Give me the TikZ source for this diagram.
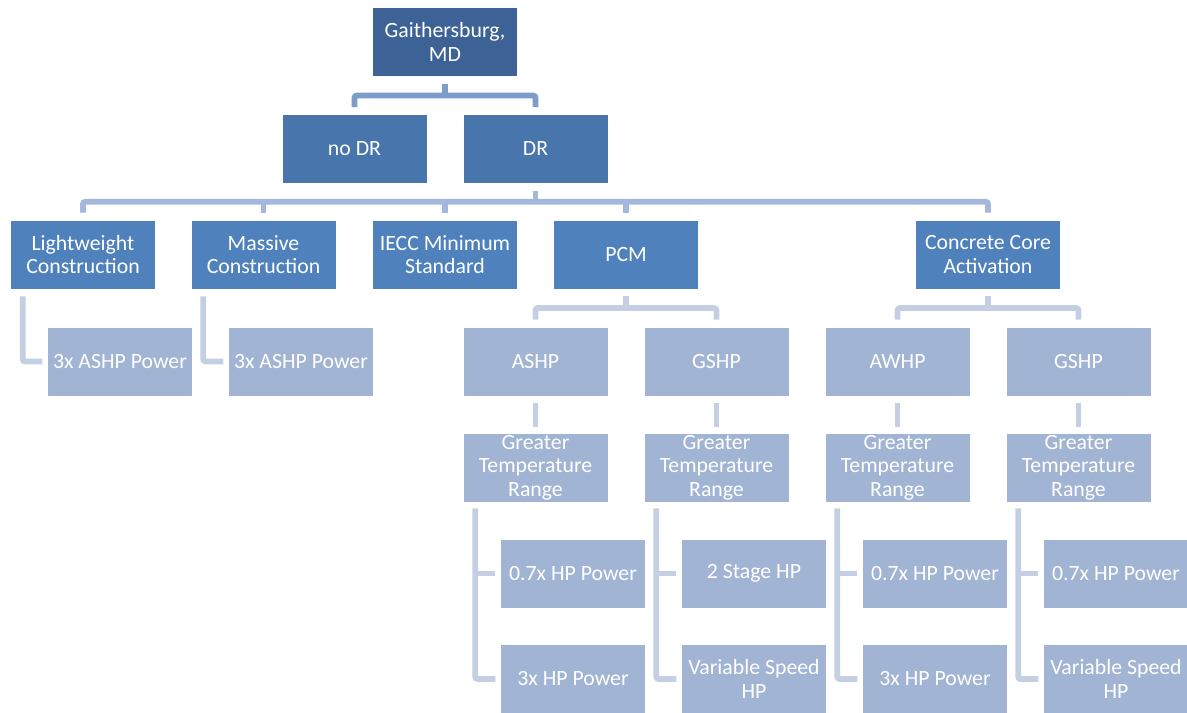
\documentclass[tikz,border=0pt]{standalone}
\usepackage{fontspec}
\setmainfont{Carlito}
\usetikzlibrary{calc}
\definecolor{boxA}{RGB}{61,99,150}
\definecolor{boxB}{RGB}{72,117,171}
\definecolor{boxC}{RGB}{79,129,189}
\definecolor{boxD}{RGB}{162,180,212}
\definecolor{linkA}{RGB}{124,156,201}
\definecolor{linkB}{RGB}{163,184,220}
\definecolor{linkC}{RGB}{196,207,227}

\begin{document}
\begin{tikzpicture}[x=0.02cm,y=-0.02cm,
    box/.style = {rectangle,draw=white,line width=0.3pt,minimum width=2.9cm,minimum height=1.38cm,inner sep=0mm,align=center,text=white,font=\fontsize{12.4}{13.4}\selectfont},
    link/.style = {line width=3.4pt,rounded corners=1.5pt}]
\useasboundingbox (0,0) rectangle (1187,713);
% top levels
\node[box,fill=boxA] (gai) at (445,42) {Gaithersburg,\\MD};
\node[box,fill=boxB] (nodr) at (354.5,149) {no DR};
\node[box,fill=boxB] (dr) at (535.5,149) {DR};
\node[box,fill=boxC] (lw) at (83,254.5) {Lightweight\\Construction};
\node[box,fill=boxC] (ms) at (263.5,254.5) {Massive\\Construction};
\node[box,fill=boxC] (iecc) at (445,254.5) {IECC Minimum\\Standard};
\node[box,fill=boxC] (pcm) at (626,254.5) {PCM};
\node[box,fill=boxC] (cca) at (988,254.5) {Concrete Core\\Activation};
\node[box,fill=boxD] (ashpA) at (120,361.5) {3x ASHP Power};
\node[box,fill=boxD] (ashpB) at (301,361.5) {3x ASHP Power};
% heat pumps, temperature range, variants
\foreach \t [count=\j] in {ASHP,GSHP,AWHP,GSHP} \node[box,fill=boxD] (hp\j) at (354.5+181*\j,361.5) {\t};
\foreach \j in {1,...,4} \node[box,fill=boxD] (gtr\j) at (354.5+181*\j,467.5) {Greater\\Temperature\\Range};
\foreach \t [count=\j] in {0.7x HP Power,2 Stage HP,0.7x HP Power,0.7x HP Power} \node[box,fill=boxD] (up\j) at (392+181*\j,573.5) {\t};
\foreach \t [count=\j] in {3x HP Power,Variable Speed\\HP,3x HP Power,Variable Speed\\HP} \node[box,fill=boxD] (lo\j) at (392+181*\j,679) {\t};

% forks
\coordinate (f1) at ($(gai.south)!0.5!(nodr.north)$);
\draw[link,linkA] ([yshift=0.14cm]nodr.north) |- (f1) -| ([yshift=0.14cm]dr.north);
\draw[link,linkA] ([yshift=-0.14cm]gai.south) -- (gai.south |- f1);
\coordinate (f2) at ($(dr.south)!0.5!(lw.north)$);
\draw[link,linkB] ([yshift=0.14cm]lw.north) |- (f2) -| ([yshift=0.14cm]cca.north);
\draw[link,linkB] ([yshift=-0.14cm]dr.south) -- (dr.south |- f2);
\foreach \n in {ms,iecc,pcm} \draw[link,linkB] (f2 -| \n.north) -- ([yshift=0.14cm]\n.north);
\coordinate (f3) at ($(pcm.south)!0.5!(hp1.north)$);
\draw[link,linkC] ([yshift=0.14cm]hp1.north) |- (f3) -| ([yshift=0.14cm]hp2.north);
\draw[link,linkC] ([yshift=-0.14cm]pcm.south) -- (pcm.south |- f3);
\draw[link,linkC] ([yshift=0.14cm]hp3.north) |- (f3 -| cca.south) -| ([yshift=0.14cm]hp4.north);
\draw[link,linkC] ([yshift=-0.14cm]cca.south) -- (cca.south |- f3);
% side links
\draw[link,linkC] ([xshift=0.25cm,yshift=-0.14cm]lw.south west) |- ([xshift=-0.1cm]ashpA.west);
\draw[link,linkC] ([xshift=0.25cm,yshift=-0.14cm]ms.south west) |- ([xshift=-0.1cm]ashpB.west);
\foreach \j in {1,...,4} {
  \draw[link,linkC] ([yshift=-0.14cm]hp\j.south) -- ([yshift=0.12cm]gtr\j.north);
  \draw[link,linkC] ([xshift=0.25cm,yshift=-0.12cm]gtr\j.south west) |- ([xshift=-0.1cm]lo\j.west);
  \draw[link,linkC] ([xshift=0.25cm]gtr\j.south west |- up\j.west) -- ([xshift=-0.1cm]up\j.west);
}
\end{tikzpicture}
\end{document}
